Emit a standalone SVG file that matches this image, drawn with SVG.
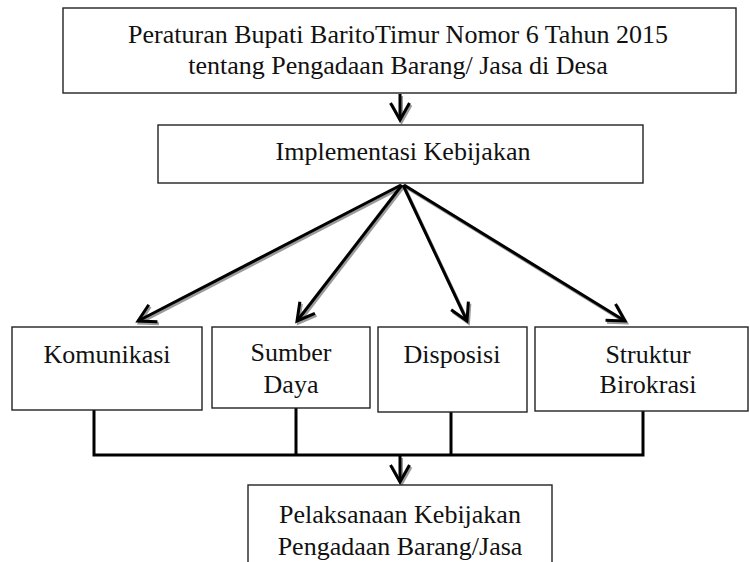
<svg xmlns="http://www.w3.org/2000/svg" width="750" height="562" viewBox="0 0 750 562">
<style>
.box{fill:#fff;stroke:#222;stroke-width:1.4}
.t{font-family:"Liberation Serif","Times New Roman",serif;font-size:26px;fill:#111;text-anchor:middle}
.ln{fill:none;stroke:#000;stroke-width:3}
.sh{fill:none;stroke:#9a9a9a;stroke-width:3}
</style>
<defs>
<marker id="ah" markerUnits="userSpaceOnUse" markerWidth="30" markerHeight="30" refX="0" refY="0" viewBox="-20 -15 30 30" orient="auto" overflow="visible">
<path d="M-17,-9.5 L0,0 L-17,9.5" fill="none" stroke="#000" stroke-width="3" stroke-linejoin="miter"/>
</marker>
<marker id="ahs" markerUnits="userSpaceOnUse" markerWidth="30" markerHeight="30" refX="0" refY="0" viewBox="-20 -15 30 30" orient="auto" overflow="visible">
<path d="M-17,-9.5 L0,0 L-17,9.5" fill="none" stroke="#9a9a9a" stroke-width="3" stroke-linejoin="miter"/>
</marker>
</defs>
<g id="connectors">
<g transform="translate(1.5,2)">
<line class="sh" x1="400" y1="94" x2="400" y2="120" marker-end="url(#ahs)"/>
<line class="sh" x1="401" y1="185" x2="138" y2="321" marker-end="url(#ahs)"/>
<line class="sh" x1="402" y1="185" x2="297" y2="321" marker-end="url(#ahs)"/>
<line class="sh" x1="403" y1="185" x2="467" y2="321" marker-end="url(#ahs)"/>
<line class="sh" x1="404" y1="185" x2="625" y2="321" marker-end="url(#ahs)"/>
<line class="sh" x1="400" y1="456" x2="400" y2="482" marker-end="url(#ahs)"/>
</g>
<line class="ln" x1="400" y1="94" x2="400" y2="120" marker-end="url(#ah)"/>
<line class="ln" x1="401" y1="185" x2="138" y2="321" marker-end="url(#ah)"/>
<line class="ln" x1="402" y1="185" x2="297" y2="321" marker-end="url(#ah)"/>
<line class="ln" x1="403" y1="185" x2="467" y2="321" marker-end="url(#ah)"/>
<line class="ln" x1="404" y1="185" x2="625" y2="321" marker-end="url(#ah)"/>
<path class="ln" d="M94,410 V455 H643 V411 M296,408 V455 M451,412 V455"/>
<line class="ln" x1="400" y1="455" x2="400" y2="482" marker-end="url(#ah)"/>
</g>
<g id="peraturan">
<rect class="box" x="63" y="8" width="673" height="85"/>
<text class="t" x="398" y="43">Peraturan Bupati BaritoTimur Nomor 6 Tahun 2015</text>
<text class="t" x="398" y="74">tentang Pengadaan Barang/ Jasa di Desa</text>
</g>
<g id="implementasi">
<rect class="box" x="158" y="125" width="485" height="58"/>
<text class="t" x="403" y="160">Implementasi Kebijakan</text>
</g>
<g id="komunikasi">
<rect class="box" x="12" y="327" width="190" height="83"/>
<text class="t" x="107" y="363">Komunikasi</text>
</g>
<g id="sumberdaya">
<rect class="box" x="212" y="327" width="158" height="81"/>
<text class="t" x="291" y="361">Sumber</text>
<text class="t" x="291" y="393">Daya</text>
</g>
<g id="disposisi">
<rect class="box" x="378" y="327" width="149" height="85"/>
<text class="t" x="452" y="363">Disposisi</text>
</g>
<g id="struktur">
<rect class="box" x="535" y="327" width="213" height="84"/>
<text class="t" x="648" y="363">Struktur</text>
<text class="t" x="648" y="393">Birokrasi</text>
</g>
<g id="pelaksanaan">
<rect class="box" x="248" y="485" width="304" height="90"/>
<text class="t" x="400" y="523">Pelaksanaan Kebijakan</text>
<text class="t" x="400" y="555">Pengadaan Barang/Jasa</text>
</g>
</svg>
